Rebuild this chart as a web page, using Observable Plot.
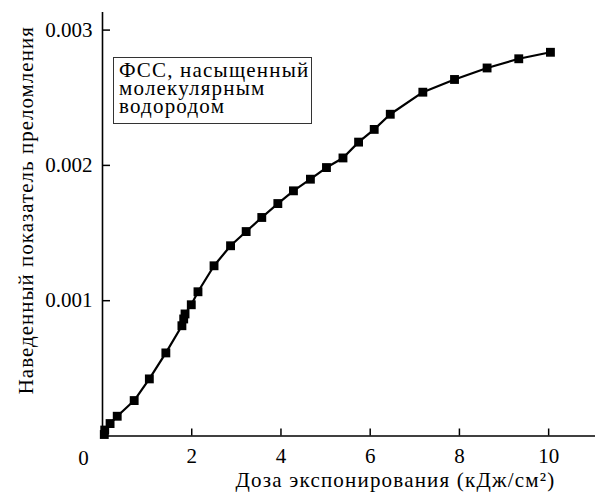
<!DOCTYPE html>
<html>
<head>
<meta charset="utf-8">
<script src="https://cdn.jsdelivr.net/npm/d3@7"></script>
<script src="https://cdn.jsdelivr.net/npm/@observablehq/plot@0.6"></script>
<style>
  html, body { margin: 0; padding: 0; background: #fff; }
  #wrap { position: relative; width: 595px; height: 499px; }
  #legend {
    position: absolute; left: 113px; top: 57px; width: 192px; height: 54px;
    border: 1px solid #333; padding: 3px 0 8px 5px; box-sizing: content-box;
    font-family: "Liberation Serif", "Times New Roman", Times, serif;
    font-size: 21px; line-height: 18px; letter-spacing: 1.2px; color: #000;
    background: #fff; white-space: nowrap;
  }
  svg text { font-family: "Liberation Serif", "Times New Roman", Times, serif !important; }
</style>
</head>
<body>
<div id="wrap">
  <div id="chart"></div>
  <div id="legend">ФСС, насыщенный<br>молекулярным<br>водородом</div>
</div>
<script>
const dose = [0.04, 0.05, 0.17, 0.33, 0.71, 1.05, 1.42, 1.78, 1.82, 1.85, 1.99, 2.14, 2.50, 2.87, 3.22, 3.57, 3.93, 4.28, 4.66, 5.02, 5.39, 5.74, 6.09, 6.45, 7.18, 7.89, 8.62, 9.33, 10.04];
const index = [0.000011, 0.000044, 0.000092, 0.000146, 0.000262, 0.000422, 0.000614, 0.000815, 0.000865, 0.000902, 0.000970, 0.001066, 0.001258, 0.001406, 0.001511, 0.001615, 0.001718, 0.001812, 0.001898, 0.001984, 0.002055, 0.002172, 0.002266, 0.002378, 0.002541, 0.002635, 0.002720, 0.002788, 0.002836];
const xTicks = [2, 4, 6, 8, 10];
const yTicks = [0.001, 0.002, 0.003];
const xLabel = "Доза экспонирования (кДж/см²)";
const yLabel = "Наведенный показатель преломления";

const data = dose.map((d, i) => ({dose: d, n: index[i]}));
const font = "'Liberation Serif', 'Times New Roman', Times, serif";

const chart = Plot.plot({
  width: 595,
  height: 499,
  marginLeft: 102,
  marginRight: 0,
  marginTop: 12,
  marginBottom: 63.5,
  style: {fontFamily: font, fontSize: "21px", color: "#000", background: "#fff"},
  x: {domain: [0, 11.05]},
  y: {domain: [0, 0.00313]},
  marks: [
    Plot.axisX({ticks: xTicks, tickSize: -7, tickPadding: 19, tickFormat: d3.format("d"), label: null, fontSize: 21, strokeWidth: 1.5}),
    Plot.axisY({ticks: yTicks, tickSize: -8, tickPadding: 18, tickFormat: d3.format(".3f"), label: null, fontSize: 21, strokeWidth: 1.5}),
    Plot.ruleX([0], {y1: 0, y2: 0.00313, strokeWidth: 1.6}),
    Plot.ruleY([0], {strokeWidth: 1.6}),
    Plot.text(["0"], {x: 0, y: 0, dx: -19, dy: 22, fontSize: 21}),
    Plot.text([xLabel], {frameAnchor: "bottom", textAnchor: "middle", lineAnchor: "middle", dx: 46.5, dy: 44, fontSize: 21}),
    Plot.text([yLabel], {frameAnchor: "left", textAnchor: "middle", lineAnchor: "middle", rotate: -90, dx: -76, dy: -14, fontSize: 21}),
    Plot.line(data, {x: "dose", y: "n", stroke: "#000", strokeWidth: 2.2}),
    Plot.dot(data, {x: "dose", y: "n", symbol: "square", r: 5, fill: "#000", stroke: "none"})
  ]
});
d3.select(chart).selectAll("text")
  .filter(function () { return /[А-Яа-я]/.test(this.textContent); })
  .style("letter-spacing", function () { return this.textContent.startsWith("Наведенный") ? "1px" : "1.2px"; });
document.getElementById("chart").appendChild(chart);
</script>
</body>
</html>
